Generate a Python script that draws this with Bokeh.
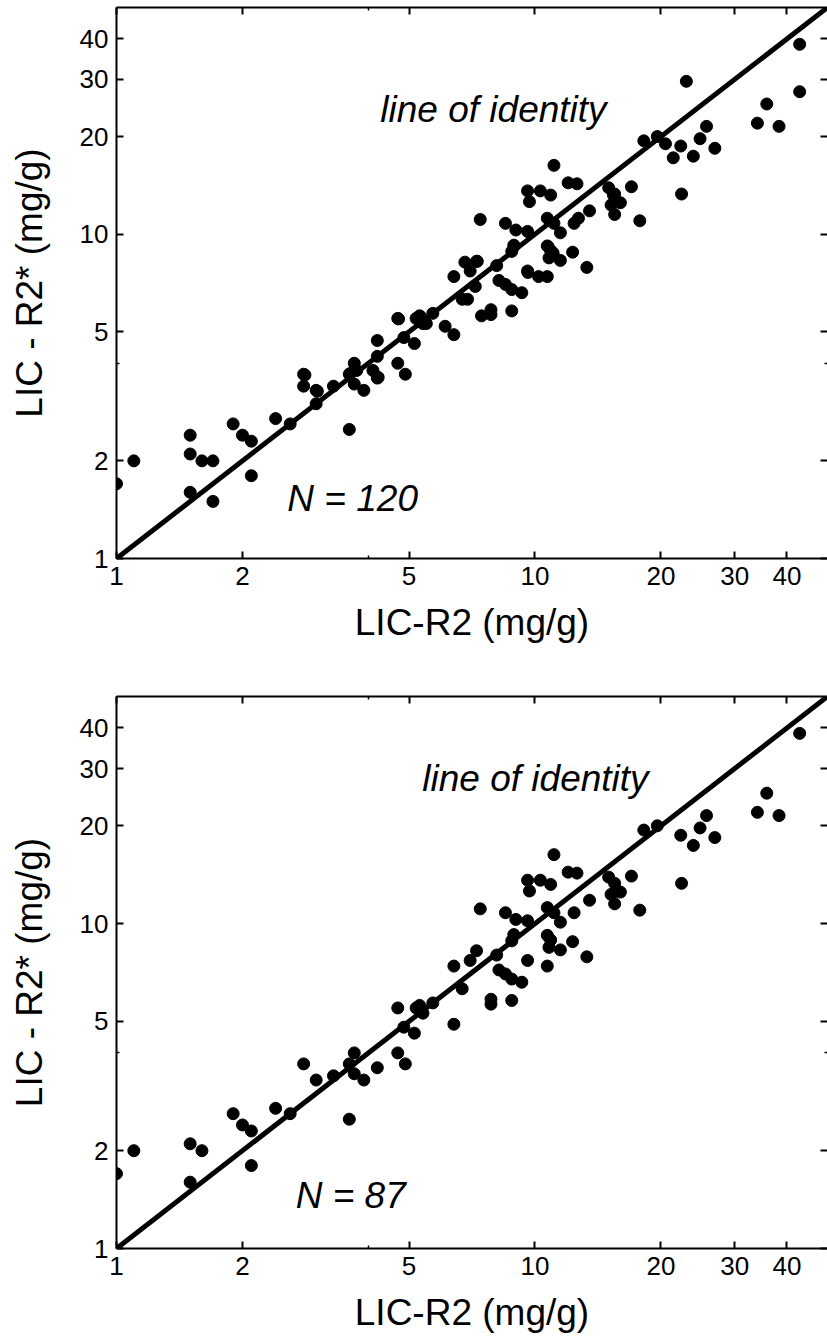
from bokeh.plotting import figure
from bokeh.layouts import column
from bokeh.models import (LogAxis, FixedTicker, Slope, Label, Range1d, PrintfTickFormatter,
                          CustomLabelingPolicy)
from bokeh.embed import file_html
from bokeh.resources import INLINE

# ---------------- data ----------------
# Panel A: all patients (N = 120)
lic_r2_all = [1.0, 1.1, 1.5, 1.5, 1.6, 1.7, 1.5, 1.7, 1.9, 2.0,
              2.1, 2.1, 2.4, 2.6, 2.8, 2.8, 3.0, 3.0, 3.3, 3.6,
              3.6, 3.7, 3.75, 3.7, 3.9, 4.1, 4.2, 4.2, 4.2, 4.7,
              4.7, 4.9, 5.15, 5.2, 5.3, 5.4, 5.5, 5.7, 6.1, 6.4,
              6.7, 6.9, 6.4, 6.8, 7.25, 7.0, 7.2, 7.4, 7.45, 7.85,
              7.85, 8.1, 8.2, 8.5, 8.8, 9.3, 8.8, 8.5, 9.0, 9.6,
              8.9, 8.8, 9.6, 10.2, 10.7, 9.6, 10.3, 10.9, 9.7, 10.7,
              11.1, 11.5, 10.7, 10.9, 10.8, 11.5, 12.3, 13.3, 11.1, 12.0,
              12.6, 12.4, 12.7, 13.5, 15.0, 15.5, 16.0, 15.5, 15.2, 17.0,
              17.8, 18.2, 19.6, 20.5, 22.3, 21.4, 23.9, 24.8, 25.7, 26.9,
              22.4, 23.0, 34.0, 35.8, 38.3, 42.9, 42.9, 4.86,
              3.62, 4.22, 5.32, 8.92, 10.75, 15.4, 7.28, 3.02, 2.82, 4.72, 11.05, 9.62]
lic_r2s_all = [1.7, 2.0, 2.4, 2.1, 2.0, 2.0, 1.6, 1.5, 2.6, 2.4,
               2.3, 1.8, 2.7, 2.6, 3.7, 3.4, 3.3, 3.0, 3.4, 2.5,
               3.7, 4.0, 3.8, 3.45, 3.3, 3.8, 4.7, 4.2, 3.6, 5.5,
               4.0, 3.7, 4.6, 5.5, 5.6, 5.3, 5.3, 5.7, 5.2, 4.9,
               6.3, 6.3, 7.4, 8.2, 8.25, 7.7, 6.9, 11.1, 5.6, 5.65,
               5.85, 8.0, 7.2, 7.0, 6.75, 6.6, 5.8, 10.8, 10.3, 10.2,
               9.25, 8.85, 7.7, 7.4, 7.4, 13.6, 13.6, 13.2, 12.6, 11.2,
               10.8, 10.1, 9.2, 8.9, 8.45, 8.3, 8.8, 7.9, 16.3, 14.4,
               14.3, 10.8, 11.2, 11.8, 13.9, 13.3, 12.5, 11.5, 12.3, 14.0,
               11.0, 19.4, 20.0, 19.0, 18.7, 17.2, 17.4, 19.7, 21.5, 18.4,
               13.3, 29.6, 22.0, 25.2, 21.5, 38.5, 27.5, 4.8,
               3.72, 3.62, 5.58, 9.2, 9.15, 13.2, 8.25, 3.28, 3.68, 5.48, 8.75, 7.62]

# Panel B: subset (N = 87)
lic_r2_sub = [1.0, 1.1, 1.5, 1.6, 1.5, 1.9, 2.0, 2.1, 2.1, 2.4,
              2.6, 2.8, 3.0, 3.3, 3.6, 3.6, 3.7, 3.7, 3.9, 4.2,
              4.7, 4.7, 4.9, 5.15, 5.2, 5.3, 5.4, 5.7, 6.4, 6.7,
              6.4, 7.25, 7.0, 7.4, 7.85, 7.85, 8.1, 8.2, 8.5, 8.8,
              9.3, 8.8, 8.5, 9.0, 9.6, 8.9, 8.8, 9.6, 10.7, 9.6,
              10.3, 10.9, 9.7, 10.7, 11.1, 11.5, 10.7, 10.9, 10.8, 11.5,
              12.3, 13.3, 11.1, 12.0, 12.6, 12.4, 13.5, 15.0, 15.5, 16.0,
              15.5, 15.2, 17.0, 17.8, 18.2, 19.6, 22.3, 23.9, 24.8, 25.7,
              26.9, 22.4, 34.0, 35.8, 38.3, 42.9, 4.86]
lic_r2s_sub = [1.7, 2.0, 2.1, 2.0, 1.6, 2.6, 2.4, 2.3, 1.8, 2.7,
               2.6, 3.7, 3.3, 3.4, 2.5, 3.7, 4.0, 3.45, 3.3, 3.6,
               5.5, 4.0, 3.7, 4.6, 5.5, 5.6, 5.3, 5.7, 4.9, 6.3,
               7.4, 8.25, 7.7, 11.1, 5.65, 5.85, 8.0, 7.2, 7.0, 6.75,
               6.6, 5.8, 10.8, 10.3, 10.2, 9.25, 8.85, 7.7, 7.4, 13.6,
               13.6, 13.2, 12.6, 11.2, 10.8, 10.1, 9.2, 8.9, 8.45, 8.3,
               8.8, 7.9, 16.3, 14.4, 14.3, 10.8, 11.8, 13.9, 13.3, 12.5,
               11.5, 12.3, 14.0, 11.0, 19.4, 20.0, 18.7, 17.4, 19.7, 21.5,
               18.4, 13.3, 22.0, 25.2, 21.5, 38.5, 4.8]

axis_range = (1, 50)
major_ticks = [1, 2, 5, 10, 20, 30, 40]
minor_ticks = [4]
x_title = "LIC-R2 (mg/g)"
y_title = "LIC - R2* (mg/g)"

FONT = "Liberation Sans"

HIDE_LABELS = "for (let i = 0; i < indices.size; i++) { indices.unset(i) }\nreturn indices"


def panel(xs, ys, n_text, id_pos, n_pos, height, border_top, border_bottom):
    p = figure(width=827, height=height, x_axis_type="log", y_axis_type="log",
               x_range=Range1d(*axis_range), y_range=Range1d(*axis_range),
               output_backend="svg", toolbar_location=None,
               min_border_left=116, min_border_right=0,
               min_border_top=border_top, min_border_bottom=border_bottom,
               x_axis_label=x_title, y_axis_label=y_title)
    p.grid.visible = False
    p.outline_line_color = None
    p.background_fill_color = "white"
    p.border_fill_color = "white"

    p.add_layout(LogAxis(), "above")
    p.add_layout(LogAxis(), "right")

    for ax in p.axis:
        ax.ticker = FixedTicker(ticks=major_ticks, minor_ticks=minor_ticks)
        ax.formatter = PrintfTickFormatter(format="%d")
        ax.major_tick_in = 7
        ax.major_tick_out = 0
        ax.minor_tick_in = 3
        ax.minor_tick_out = 0
        ax.major_tick_line_width = 2
        ax.minor_tick_line_width = 1.5
        ax.major_tick_line_color = "black"
        ax.minor_tick_line_color = "black"
        ax.axis_line_width = 2
        ax.axis_line_color = "black"
        ax.major_label_text_font = FONT
        ax.major_label_text_font_size = "26px"
        ax.major_label_text_color = "black"
        ax.major_label_standoff = 8
        ax.axis_label_text_font = FONT
        ax.axis_label_text_font_size = "37px"
        ax.axis_label_text_font_style = "normal"
        ax.axis_label_text_color = "black"

    p.below[0].axis_label_standoff = 14
    p.left[0].axis_label_standoff = 27

    for ax in (p.above[0], p.right[0]):
        ax.major_label_text_font_size = "0px"
        ax.major_label_standoff = 0
        ax.major_label_policy = CustomLabelingPolicy(code=HIDE_LABELS)
        ax.axis_label = None
    p.right[0].axis_line_color = None

    p.add_layout(Slope(gradient=1, y_intercept=0, line_color="black", line_width=5))
    p.scatter(xs, ys, size=12, color="black")

    p.add_layout(Label(x=id_pos[0], y=id_pos[1], text="line of identity",
                       text_font=FONT, text_font_size="37px", text_font_style="italic",
                       text_align="left", text_baseline="alphabetic", text_color="black"))
    p.add_layout(Label(x=n_pos[0], y=n_pos[1], text=n_text,
                       text_font=FONT, text_font_size="37px", text_font_style="italic",
                       text_align="left", text_baseline="alphabetic", text_color="black"))
    return p


p1 = panel(lic_r2_all, lic_r2s_all, "N = 120", (4.27, 24.3), (2.56, 1.53), 658, 7, 100)
p2 = panel(lic_r2_sub, lic_r2s_sub, "N = 87", (5.38, 27.9), (2.68, 1.456), 683, 38, 93)

layout = column(p1, p2, spacing=0)
open("out.html", "w").write(file_html(layout, INLINE))
